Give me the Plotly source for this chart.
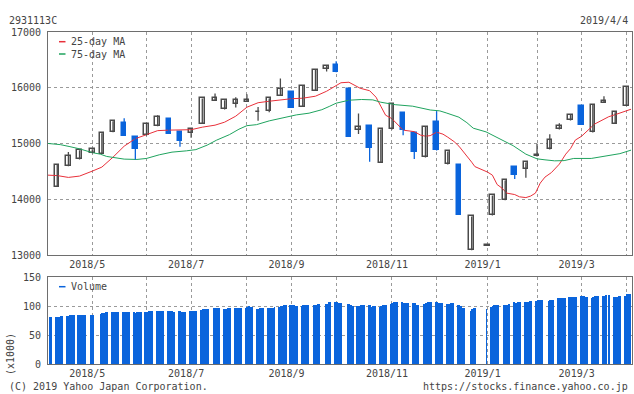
import pandas as pd
import plotly.graph_objects as go

# ---------------- data ----------------
candle_dates = ["2018-04-09", "2018-04-16", "2018-04-23", "2018-05-01", "2018-05-07", "2018-05-14",
                "2018-05-21", "2018-05-28", "2018-06-04", "2018-06-11", "2018-06-18", "2018-06-25",
                "2018-07-02", "2018-07-09", "2018-07-17", "2018-07-23", "2018-07-30", "2018-08-06",
                "2018-08-13", "2018-08-20", "2018-08-27", "2018-09-03", "2018-09-10", "2018-09-18",
                "2018-09-25", "2018-10-01", "2018-10-09", "2018-10-15", "2018-10-22", "2018-10-29",
                "2018-11-05", "2018-11-12", "2018-11-19", "2018-11-26", "2018-12-03", "2018-12-10",
                "2018-12-17", "2018-12-25", "2019-01-04", "2019-01-07", "2019-01-15", "2019-01-21",
                "2019-01-28", "2019-02-04", "2019-02-12", "2019-02-18", "2019-02-25", "2019-03-04",
                "2019-03-11", "2019-03-18", "2019-03-25", "2019-04-01"]
opens = [14230, 14600, 14717, 14830, 14817, 15206, 15367, 15122, 15147, 15313, 15438, 15211,
         15182, 15361, 15773, 15612, 15719, 15755, 15565, 15587, 15862, 15921, 15658, 15952,
         16333, 16404, 15975, 15236, 15313, 14656, 15254, 15551, 15188, 14753, 15385, 14628,
         14621, 13089, 13175, 13715, 13984, 14580, 14538, 14772, 14896, 15254, 15415, 15671,
         15200, 15737, 15361, 15683]
highs = [14620, 14850, 14880, 14900, 15185, 15400, 15456, 15122, 15361, 15510, 15438, 15211,
         15254, 15809, 15898, 15778, 15832, 15884, 15658, 15809, 16166, 15921, 16041, 16327,
         16399, 16476, 15975, 15540, 15313, 15254, 15707, 15551, 15188, 15310, 15581, 14860,
         14621, 13697, 13185, 14073, 14342, 14580, 14664, 14996, 15170, 15367, 15522, 15671,
         15701, 15850, 15563, 16023]
lows = [14225, 14595, 14715, 14828, 14815, 15205, 15139, 14717, 15147, 15313, 15175, 14943,
        15104, 15361, 15773, 15612, 15648, 15755, 15408, 15563, 15862, 15640, 15658, 15952,
        16292, 16279, 15122, 15175, 14674, 14656, 15254, 15152, 14726, 14753, 14878, 14628,
        13726, 13089, 13175, 13715, 13984, 14365, 14388, 14772, 14896, 15254, 15415, 15336,
        15200, 15737, 15361, 15683]
closes = [14615, 14770, 14878, 14896, 15182, 15397, 15139, 14896, 15361, 15479, 15175, 15050,
          15254, 15809, 15826, 15778, 15778, 15790, 15572, 15809, 15987, 15640, 16041, 16327,
          16399, 16279, 15122, 15290, 14925, 15254, 15707, 15242, 14853, 15295, 14878, 14860,
          13726, 13697, 13185, 14073, 14342, 14442, 14664, 14790, 15063, 15325, 15522, 15336,
          15701, 15773, 15563, 16023]

ma25_dates = ["2018-04-03", "2018-04-09", "2018-04-16", "2018-04-23", "2018-05-01", "2018-05-07",
              "2018-05-14", "2018-05-21", "2018-05-28", "2018-06-04", "2018-06-11", "2018-06-18",
              "2018-06-25", "2018-07-02", "2018-07-09", "2018-07-17", "2018-07-23", "2018-07-30",
              "2018-08-06", "2018-08-13", "2018-08-20", "2018-08-27", "2018-09-03", "2018-09-10",
              "2018-09-18", "2018-09-25", "2018-10-01", "2018-10-04", "2018-10-09", "2018-10-13",
              "2018-10-16", "2018-10-22", "2018-10-26", "2018-10-29", "2018-11-01", "2018-11-05",
              "2018-11-09", "2018-11-12", "2018-11-19", "2018-11-23", "2018-11-26", "2018-11-29",
              "2018-12-03", "2018-12-07", "2018-12-10", "2018-12-14", "2018-12-17", "2018-12-21",
              "2018-12-25", "2018-12-27", "2019-01-01", "2019-01-04", "2019-01-07", "2019-01-10",
              "2019-01-13", "2019-01-16", "2019-01-21", "2019-01-24", "2019-01-28", "2019-01-31",
              "2019-02-03", "2019-02-06", "2019-02-09", "2019-02-13", "2019-02-18", "2019-02-22",
              "2019-02-25", "2019-02-28", "2019-03-04", "2019-03-09", "2019-03-12", "2019-03-18",
              "2019-03-21", "2019-03-25", "2019-03-28", "2019-04-04"]
ma25 = [14436, 14428, 14395, 14419, 14508, 14580, 14758, 14955, 15089, 15161, 15233, 15242,
        15242, 15250, 15295, 15331, 15385, 15492, 15653, 15733, 15760, 15787, 15805, 15814,
        15850, 15939, 16047, 16091, 16100, 16047, 15993, 15948, 15832, 15671, 15510, 15447,
        15331, 15242, 15215, 15152, 15134, 15143, 15206, 15170, 15116, 15036, 14955, 14821,
        14669, 14589, 14526, 14490, 14436, 14267, 14204, 14114, 14088, 14048, 14034, 14061,
        14114, 14293, 14401, 14481, 14633, 14812, 14911, 15063, 15134, 15277, 15349, 15438,
        15483, 15519, 15546, 15617]

ma75_dates = ["2018-04-03", "2018-04-11", "2018-04-17", "2018-04-23", "2018-05-01", "2018-05-06",
              "2018-05-10", "2018-05-15", "2018-05-21", "2018-05-29", "2018-06-04", "2018-06-12",
              "2018-06-20", "2018-06-29", "2018-07-05", "2018-07-12", "2018-07-18", "2018-07-26",
              "2018-08-01", "2018-08-06", "2018-08-12", "2018-08-20", "2018-08-29", "2018-09-06",
              "2018-09-14", "2018-09-22", "2018-09-27", "2018-10-01", "2018-10-09", "2018-10-17",
              "2018-10-24", "2018-10-29", "2018-11-07", "2018-11-18", "2018-11-29", "2018-12-05",
              "2018-12-09", "2018-12-13", "2018-12-17", "2018-12-22", "2018-12-26", "2019-01-03",
              "2019-01-09", "2019-01-12", "2019-01-20", "2019-01-28", "2019-02-04", "2019-02-09",
              "2019-02-15", "2019-02-21", "2019-02-27", "2019-03-10", "2019-03-17", "2019-03-22",
              "2019-03-28", "2019-04-04"]
ma75 = [15004, 14982, 14946, 14907, 14839, 14812, 14771, 14746, 14723, 14717, 14735, 14800,
        14848, 14871, 14893, 14973, 15063, 15161, 15259, 15322, 15340, 15408, 15465, 15515,
        15546, 15608, 15671, 15725, 15778, 15791, 15784, 15742, 15698, 15671, 15603, 15587,
        15551, 15510, 15474, 15376, 15277, 15211, 15122, 15081, 14964, 14812, 14728, 14710,
        14692, 14696, 14735, 14735, 14767, 14803, 14821, 14884]

market_holidays = ["2018-04-30", "2018-05-03", "2018-05-04", "2018-07-16", "2018-09-17",
                   "2018-09-24", "2018-10-08", "2018-11-23", "2018-12-24", "2018-12-31",
                   "2019-01-01", "2019-01-02", "2019-01-03", "2019-01-14", "2019-02-11",
                   "2019-03-21"]
volume_weeks = [[81, 81], [80, 80, 81, 82, 83], [83, 83, 85, 84, 84], [84, 85, 85, 85, 85], [85, 85],
                [86, 87, 88, 89, 89], [89, 89, 89, 90, 90], [90, 90, 90, 90, 89], [89, 88, 89, 89, 89],
                [90, 90, 91, 92, 92], [92, 92, 92, 92, 92], [92, 92, 92, 91, 90], [92, 91, 90, 90, 90],
                [92, 92, 92, 92, 92], [93, 95, 95, 95, 95], [96, 96, 96, 96], [95, 95, 95, 96, 96],
                [96, 96, 97, 97, 97], [97, 98, 99, 98, 98], [95, 95, 96, 96, 96], [96, 96, 97, 97, 98],
                [98, 99, 100, 101, 102], [101, 101, 101, 100, 99], [99, 101, 101, 102, 102],
                [102, 102, 103, 104], [104, 104, 106, 106], [106, 106, 105, 105, 105],
                [103, 104, 101, 99], [99, 99, 102, 101, 101], [101, 101, 98, 99, 99],
                [98, 99, 101, 102, 102], [104, 105, 106, 106, 106], [106, 105, 105, 105, 105],
                [105, 105, 102, 102], [103, 105, 106, 106, 106], [107, 106, 105, 105, 105],
                [103, 103, 103, 105, 105], [102, 101, 99, 97, 96], [92, 95, 96, 96], [94],
                [98, 99, 101, 101, 101], [101, 101, 102, 104], [106, 105, 105, 106, 106],
                [106, 106, 106, 108, 108], [109, 110, 110, 110, 110], [109, 111, 111, 111],
                [113, 113, 113, 113, 113], [115, 115, 115, 115, 115], [117, 117, 117, 115, 115],
                [114, 115, 117, 117, 117], [118, 118, 119, 119], [115, 115, 116, 117, 117],
                [118, 120, 121, 121]]

month_ticks = ["2018-05-01", "2018-06-04", "2018-07-02", "2018-08-06", "2018-09-03", "2018-10-01",
               "2018-11-05", "2018-12-03", "2019-01-04", "2019-02-04", "2019-03-04", "2019-04-01"]
month_labels = ["2018/5", "", "2018/7", "", "2018/9", "", "2018/11", "", "2019/1", "", "2019/3", ""]
price_ticks = [13000, 14000, 15000, 16000, 17000]
price_labels = ["13000", "14000", "15000", "16000", "17000"]
volume_ticks = [0, 50, 100, 150]
volume_labels = ["0", "50", "100", "150"]

# ---------------- styles ----------------
RED = "#e8303a"
GREEN = "#1fa35e"
BLUE = "#0a64dc"
GRAY = "#4a4a4a"
TXT = "#444444"
FONT = "DejaVu Sans Mono"
DAY = 86400000

W, H = 634, 394
L, R, T, B = 48, 632, 32, 364


def px(x):
    return (x - L) / (R - L)


def py(y):
    return (B - y) / (B - T)


vol_dates = pd.bdate_range("2018-04-05", "2019-04-04", freq="C", holidays=market_holidays)
volume = [v for wk in volume_weeks for v in wk]
n = min(len(vol_dates), len(volume))
vol_dates = list(vol_dates[:n])
volume = volume[:n]

fig = go.Figure()

# moving averages (behind candles)
fig.add_trace(go.Scatter(x=ma25_dates, y=ma25, mode="lines", line=dict(color=RED, width=1),
                         xaxis="x", yaxis="y", hoverinfo="skip"))
fig.add_trace(go.Scatter(x=ma75_dates, y=ma75, mode="lines", line=dict(color=GREEN, width=1),
                         xaxis="x", yaxis="y", hoverinfo="skip"))

# wicks
for up in (True, False):
    wx, wy = [], []
    for d, o, h, l, c in zip(candle_dates, opens, highs, lows, closes):
        if (c >= o) == up:
            wx += [d, d, None]
            wy += [l, h, None]
    fig.add_trace(go.Scatter(x=wx, y=wy, mode="lines",
                             line=dict(color=GRAY if up else BLUE, width=1.3),
                             xaxis="x", yaxis="y", hoverinfo="skip"))

# bodies
for up in (True, False):
    bx, bb, bh = [], [], []
    for d, o, c in zip(candle_dates, opens, closes):
        if (c >= o) == up:
            bx.append(d)
            bb.append(min(o, c))
            bh.append(abs(c - o))
    fig.add_trace(go.Bar(x=bx, y=bh, base=bb, width=2.8 * DAY,
                         marker=dict(color="white" if up else BLUE,
                                     line=dict(color=GRAY if up else BLUE, width=1.5)),
                         xaxis="x", yaxis="y", hoverinfo="skip"))

# volume
fig.add_trace(go.Bar(x=vol_dates, y=volume, width=0.6 * DAY, offset=-1.0 * DAY,
                     marker=dict(color=BLUE, line=dict(width=0)),
                     xaxis="x2", yaxis="y2", hoverinfo="skip"))

x_range = ["2018-04-03 05:00", "2019-04-04 14:00"]
axis_common = dict(showline=True, mirror=True, linecolor="#6e6e6e", linewidth=1,
                   showgrid=True, gridcolor="#9a9a9a", griddash="dot", gridwidth=1,
                   zeroline=False, ticks="", tickfont=dict(family=FONT, size=10, color=TXT))

fig.update_layout(
    width=W, height=H,
    margin=dict(l=L, r=W - R, t=T, b=H - B),
    paper_bgcolor="white", plot_bgcolor="white",
    showlegend=False, barmode="overlay", bargap=0,
    font=dict(family=FONT, size=10, color=TXT),
    xaxis=dict(domain=[0, 1], anchor="y", type="date", range=x_range,
               tickmode="array", tickvals=month_ticks, ticktext=month_labels,
               ticklabelshift=-5, **axis_common),
    yaxis=dict(domain=[py(255.3), 1], anchor="x", range=[13000, 17000],
               tickmode="array", tickvals=price_ticks, ticktext=price_labels,
               ticklabelstandoff=4, **axis_common),
    xaxis2=dict(domain=[0, 1], anchor="y2", type="date", range=x_range, matches="x",
                tickmode="array", tickvals=month_ticks, ticktext=month_labels,
                ticklabelshift=-5, **axis_common),
    yaxis2=dict(domain=[0, py(277.3)], anchor="x2", range=[0, 150],
                tickmode="array", tickvals=volume_ticks, ticktext=volume_labels,
                ticklabelstandoff=4, **axis_common),
)

ann = dict(xref="paper", yref="paper", showarrow=False,
           font=dict(family=FONT, size=10, color=TXT))
fig.add_annotation(x=px(7), y=py(20.5), text="2931113C", xanchor="left", yanchor="middle", **ann)
fig.add_annotation(x=px(630), y=py(20.5), text="2019/4/4", xanchor="right", yanchor="middle", **ann)
fig.add_annotation(x=px(7), y=py(386.5), text="(C) 2019 Yahoo Japan Corporation.",
                   xanchor="left", yanchor="middle", **ann)
fig.add_annotation(x=px(630), y=py(386.5), text="https://stocks.finance.yahoo.co.jp",
                   xanchor="right", yanchor="middle", **ann)
fig.add_annotation(x=px(10.5), y=py(353.5), text="(x1000)", textangle=-90,
                   xanchor="center", yanchor="middle", **ann)

legend_items = [("25-day MA", RED, 41.7), ("75-day MA", GREEN, 54.0), ("Volume", BLUE, 286.7)]
for label, col, yy in legend_items:
    fig.add_shape(type="line", xref="paper", yref="paper", x0=px(59), x1=px(65.5),
                  y0=py(yy), y1=py(yy), line=dict(color=col, width=1.5))
    fig.add_annotation(x=px(69), y=py(yy), text=label, xanchor="left", yanchor="middle", **ann)

fig.write_html("out.html", config={"displayModeBar": False},
               post_script="document.body.style.margin='0px';document.body.style.padding='0px';")
